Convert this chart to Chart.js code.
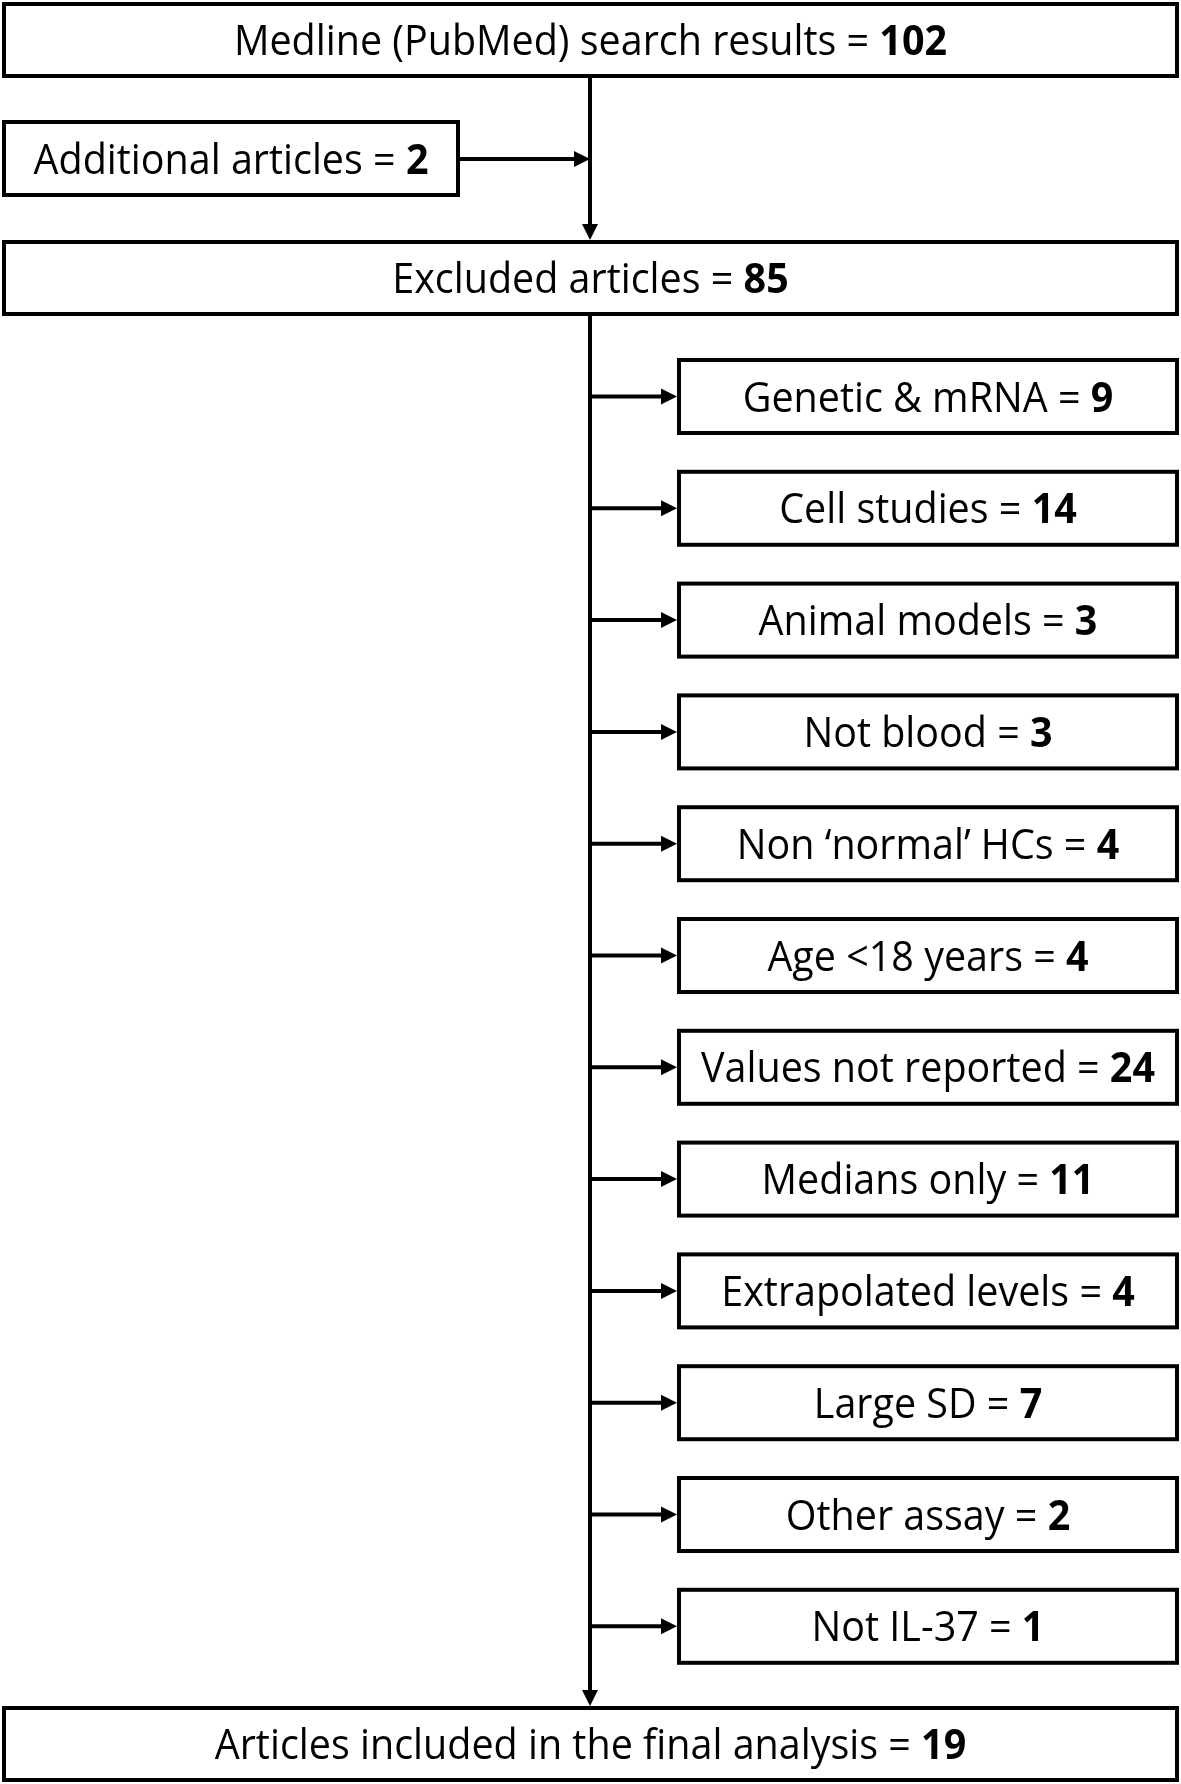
<!DOCTYPE html>
<html>
<head>
<meta charset="utf-8">
<script src="https://cdn.jsdelivr.net/npm/chart.js@4/dist/chart.umd.min.js"></script>
<style>
html,body{margin:0;padding:0;background:#fff;}
canvas{display:block;}
</style>
</head>
<body>
<canvas id="flow" width="1181" height="1784"></canvas>
<script>
// flow stages (main column) and exclusion reasons (side column)
const stageLabels=['Medline (PubMed) search results','Additional articles','Excluded articles','Articles included in the final analysis'];
const stageCounts=[102,2,85,19];
const reasonLabels=['Genetic & mRNA','Cell studies','Animal models','Not blood','Non \u2018normal\u2019 HCs','Age <18 years','Values not reported','Medians only','Extrapolated levels','Large SD','Other assay','Not IL-37'];
const reasonCounts=[9,14,3,3,4,4,24,11,4,7,2,1];

const W=1181, H=1784;
const FONT='"Open Sans", "Noto Sans", sans-serif';
const FS=42;

function label(ctx,txt,num,cx,cy,sx){
  ctx.save();
  ctx.font=FS+'px '+FONT;
  const a=ctx.measureText(txt+' = ').width;
  ctx.font='bold '+FS+'px '+FONT;
  const b=ctx.measureText(String(num)).width;
  const w=(a+b)*sx;
  ctx.translate(cx-w/2,cy+FS*0.36);
  ctx.scale(sx,1);
  ctx.fillStyle='#000';
  ctx.textBaseline='alphabetic';
  ctx.font=FS+'px '+FONT;
  ctx.fillText(txt+' = ',0,0);
  ctx.font='bold '+FS+'px '+FONT;
  ctx.fillText(String(num),a,0);
  ctx.restore();
}

const flowPlugin={
  id:'flow',
  afterDraw(chart){
    const ctx=chart.ctx, xs=chart.scales.x, ys=chart.scales.y;
    const px=v=>xs.getPixelForValue(v), py=v=>ys.getPixelForValue(v);
    // horizontal squeeze so the text width follows the reference (Calibri-like)
    ctx.font=FS+'px '+FONT;
    let ref=ctx.measureText('Values not reported = ').width;
    ctx.font='bold '+FS+'px '+FONT;
    ref+=ctx.measureText('24').width;
    const sx=454/ref;

    const box=(x0,y0,x1,y1,txt,num)=>{
      ctx.save();
      ctx.fillStyle='#fff';ctx.strokeStyle='#000';ctx.lineWidth=4;ctx.lineJoin='miter';
      ctx.fillRect(px(x0),py(y0),px(x1)-px(x0),py(y1)-py(y0));
      ctx.strokeRect(px(x0)+2,py(y0)+2,px(x1)-px(x0)-4,py(y1)-py(y0)-4);
      ctx.restore();
      label(ctx,txt,num,(px(x0)+px(x1))/2,(py(y0)+py(y1))/2,sx);
    };
    const line=(x0,y0,x1,y1)=>{
      ctx.save();ctx.strokeStyle='#000';ctx.lineWidth=4;
      ctx.beginPath();ctx.moveTo(px(x0),py(y0));ctx.lineTo(px(x1),py(y1));ctx.stroke();ctx.restore();
    };
    const head=(x,y,dir)=>{ // dir: 'down' or 'right'
      ctx.save();ctx.fillStyle='#000';ctx.beginPath();
      const X=px(x),Y=py(y);
      if(dir==='down'){ctx.moveTo(X,Y);ctx.lineTo(X-8,Y-16);ctx.lineTo(X+8,Y-16);}
      else{ctx.moveTo(X,Y);ctx.lineTo(X-16,Y-8);ctx.lineTo(X-16,Y+8);}
      ctx.closePath();ctx.fill();ctx.restore();
    };

    const spine=590, subL=677, right=1179;
    // connectors first
    line(spine,78,spine,228); head(spine,240,'down');
    line(460,159,578,159); head(spine,159,'right');
    line(spine,316,spine,1694); head(spine,1706,'down');

    box(2,2,right,78,stageLabels[0],stageCounts[0]);
    box(2,120,460,197,stageLabels[1],stageCounts[1]);
    box(2,240,right,316,stageLabels[2],stageCounts[2]);
    reasonLabels.forEach((r,i)=>{
      const t=358+i*111.8, b=t+77, c=(t+b)/2;
      line(spine,c,subL-14,c); head(subL,c,'right');
      box(subL,t,right,b,r,reasonCounts[i]);
    });
    box(2,1706,right,1782,stageLabels[3],stageCounts[3]);
  }
};

new Chart(document.getElementById('flow'),{
  type:'scatter',
  data:{datasets:[{data:[],pointRadius:0}]},
  options:{
    responsive:false,animation:false,devicePixelRatio:1,
    layout:{padding:0},
    plugins:{legend:{display:false},tooltip:{enabled:false}},
    scales:{
      x:{type:'linear',min:0,max:W,display:false},
      y:{type:'linear',min:0,max:H,reverse:true,display:false}
    }
  },
  plugins:[flowPlugin]
});
</script>
</body>
</html>
